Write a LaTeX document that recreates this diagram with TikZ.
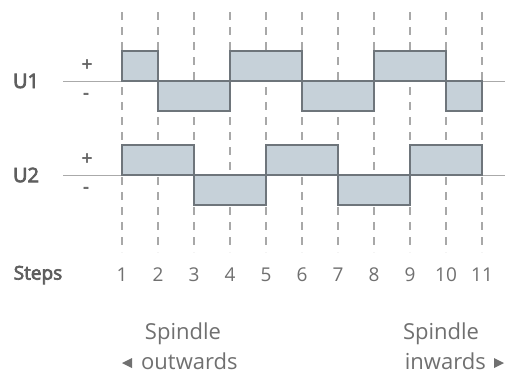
\documentclass[tikz,border=0pt]{standalone}
\usepackage{fontspec}
\setmainfont{Open Sans}
\newfontfamily\semi{Open Sans}[FakeBold=3.5]
\definecolor{txt}{HTML}{5E5E5E}
\definecolor{txtl}{HTML}{707070}
\definecolor{wavefill}{HTML}{C6D1D9}
\definecolor{waveline}{HTML}{6E757B}
\definecolor{gridc}{HTML}{A8A8A8}
\definecolor{basec}{HTML}{AAAAAA}
\begin{document}
\begin{tikzpicture}[x=1pt,y=-1pt,
  gridline/.style={draw=gridc,line width=1.2pt,dash pattern=on 8pt off 7pt},
  baseline/.style={draw=basec,line width=0.8pt},
  wave/.style={fill=wavefill,draw=waveline,line width=1.3pt,line join=miter},
  lbl/.style={text=txt,font=\semi\fontsize{20}{24}\selectfont,inner sep=0pt},
  sign/.style={text=txt,font=\semi\fontsize{18}{20}\selectfont,inner sep=0pt},
  num/.style={text=txtl,font=\fontsize{19}{22}\selectfont,inner sep=0pt},
  spin/.style={text=txtl,font=\fontsize{22}{26}\selectfont,inner sep=0pt},
  tri/.style={fill=txtl,draw=none}]
\useasboundingbox (0,0) rectangle (513,376);
\fill[white] (0,0) rectangle (513,376);
% grid
\foreach \k in {1,...,11}
  \draw[gridline] ({122+36*(\k-1)},12) -- ({122+36*(\k-1)},252);
% baselines
\draw[baseline] (63,81) -- (505,81);
\draw[baseline] (63,175) -- (505,175);
% U1 waveform
\filldraw[wave] (122,81) -- (122,51) -- (158,51) -- (158,111) -- (230,111) -- (230,51)
  -- (302,51) -- (302,111) -- (374,111) -- (374,51) -- (446,51) -- (446,111)
  -- (482,111) -- (482,81) -- cycle;
% U2 waveform
\filldraw[wave] (122,175) -- (122,145) -- (194,145) -- (194,205) -- (266,205) -- (266,145)
  -- (338,145) -- (338,205) -- (410,205) -- (410,145) -- (482,145) -- (482,175) -- cycle;
% labels
\node[lbl] (u1) at (26,81) {U1};
\node[lbl] (u2) at (26,175) {U2};
\node[sign] (p1) at (87,65) {+};
\node[sign] (m1) at (86,96) {-};
\node[sign] (p2) at (87,159) {+};
\node[sign] (m2) at (86,190) {-};
\node[lbl,font=\semi\fontsize{19}{22}\selectfont] (steps) at (38,275) {Steps};
\foreach \k in {1,...,11}
  \node[num] (n\k) at ({122+36*(\k-1)},275) {\k};
\node[spin] (sl1) at (183,334) {Spindle};
\node[spin,anchor=base west] (sl2) at (141,369) {outwards};
\fill[tri] (122,363) -- (132,358) -- (132,368) -- cycle;
\node[spin] (sr1) at (441,334) {Spindle};
\node[spin,anchor=base east] (sr2) at (486,369) {inwards};
\fill[tri] (504,363) -- (494,358) -- (494,368) -- cycle;
\end{tikzpicture}
\end{document}
